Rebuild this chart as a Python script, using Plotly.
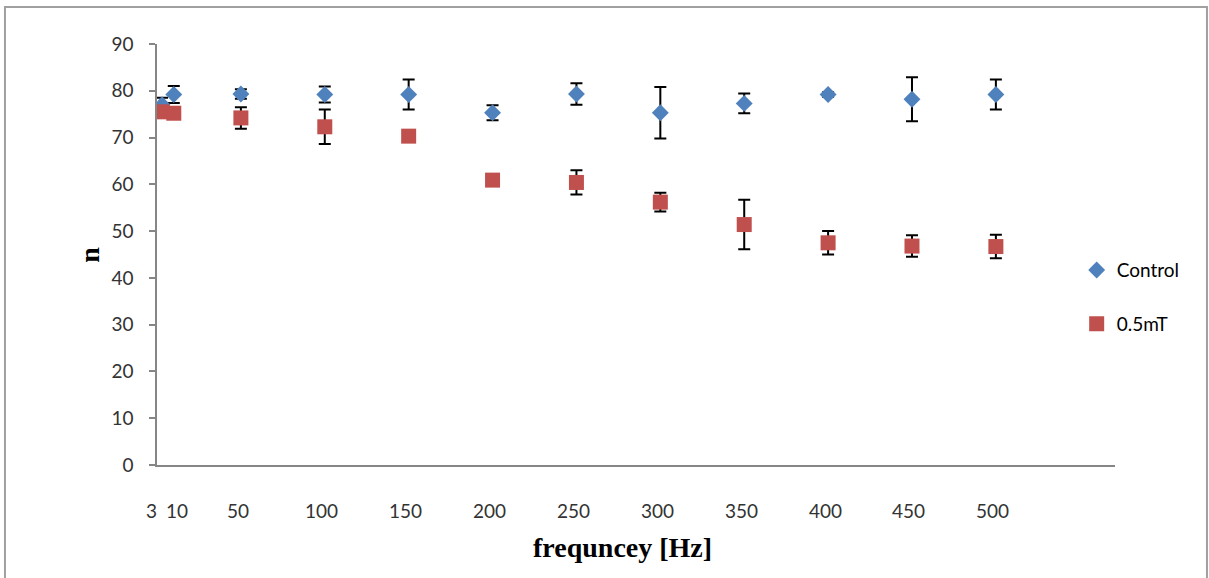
import plotly.graph_objects as go

# Frequency points (Hz) and measured n values with their error bars
freq = [3, 10, 50, 100, 150, 200, 250, 300, 350, 400, 450, 500]

control = [77.0, 79.2, 79.3, 79.2, 79.2, 75.3, 79.3, 75.3, 77.3, 79.2, 78.2, 79.2]
control_err = [1.5, 1.8, 1.0, 1.7, 3.2, 1.6, 2.3, 5.5, 2.1, 0.5, 4.7, 3.2]

treated = [75.5, 75.2, 74.2, 72.3, 70.3, 60.9, 60.4, 56.2, 51.4, 47.5, 46.8, 46.7]
treated_err = [0.5, 0.5, 2.3, 3.7, 0.5, 0.5, 2.6, 2.0, 5.3, 2.5, 2.3, 2.5]

x_tick_labels = ["3", "10", "50", "100", "150", "200", "250", "300", "350", "400", "450", "500"]
y_ticks = [0, 10, 20, 30, 40, 50, 60, 70, 80, 90]

BLUE = "#4F81BD"
RED = "#C0504D"
AXIS_GREY = "#868686"
TICK_FONT = dict(family="Lato, Open Sans, sans-serif", size=19, color="#333333")
TITLE_FONT = dict(family="Liberation Serif, Times New Roman, serif", size=28, color="#000000")

fig = go.Figure()

fig.add_trace(go.Scatter(
    x=freq, y=control, mode="markers", name="Control",
    legendgroup="c",
    marker=dict(symbol="diamond", size=13, color=BLUE),
    error_y=dict(type="data", array=control_err, visible=True,
                 color="#000000", thickness=2, width=6),
))

fig.add_trace(go.Scatter(
    x=freq, y=treated, mode="markers", name="0.5mT",
    legendgroup="t",
    marker=dict(symbol="square", size=15, color=RED),
    error_y=dict(type="data", array=treated_err, visible=True,
                 color="#000000", thickness=2, width=6),
))

# Category-style labels under the frequency axis; the two lowest values
# are nudged apart so that "3" and "10" stay readable.
nudge = {"3": -11, "10": 3}
annotations = []
for xv, lab in zip(freq, x_tick_labels):
    annotations.append(dict(
        x=xv, y=0, xref="x", yref="y", text=lab, showarrow=False,
        xanchor="center", yanchor="middle", yshift=-45,
        xshift=nudge.get(lab, -3), font=TICK_FONT,
    ))

annotations.append(dict(
    x=0.4864, y=-0.197, xref="paper", yref="paper",
    text="<b>frequncey [Hz]</b>", showarrow=False,
    xanchor="center", yanchor="middle", font=TITLE_FONT,
))
annotations.append(dict(
    x=-0.070, y=0.499, xref="paper", yref="paper",
    text="<b>n</b>", showarrow=False, textangle=-90,
    xanchor="center", yanchor="middle", font=TITLE_FONT,
))

fig.update_layout(
    width=1209, height=578,
    margin=dict(l=157, r=94, t=44, b=113, autoexpand=False),
    paper_bgcolor="#FFFFFF", plot_bgcolor="#FFFFFF",
    showlegend=True,
    legend=dict(
        xref="paper", yref="paper",
        x=0.960, y=0.508, xanchor="left", yanchor="top",
        font=dict(family="Lato, Open Sans, sans-serif", size=19, color="#000000"),
        tracegroupgap=26, traceorder="grouped",
        bgcolor="rgba(0,0,0,0)",
    ),
    annotations=annotations,
    shapes=[dict(
        type="rect", xref="paper", yref="paper",
        x0=-0.1587, x1=1.096, y0=-0.30, y1=1.088,
        line=dict(color="#A0A0A0", width=2), layer="below",
    )],
)

fig.update_xaxes(
    range=[0, 571], showgrid=False, zeroline=False,
    showticklabels=False, ticks="",
    showline=True, linecolor=AXIS_GREY, linewidth=2,
)

fig.update_yaxes(
    range=[0, 90], tickvals=y_ticks, showgrid=False, zeroline=False,
    showline=True, linecolor=AXIS_GREY, linewidth=1.5,
    ticks="outside", ticklen=6, tickcolor=AXIS_GREY, tickwidth=1.5,
    ticklabelstandoff=12, tickfont=TICK_FONT,
)

fig.write_html("out.html")
